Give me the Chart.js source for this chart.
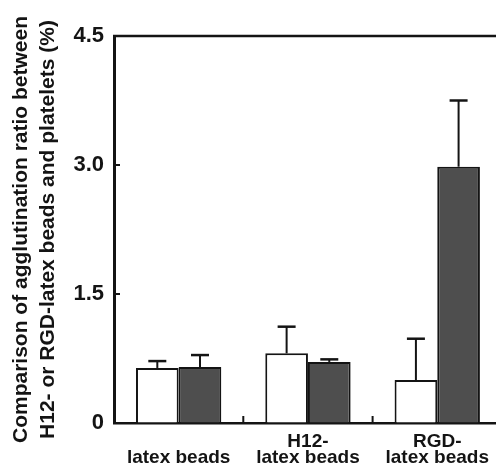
<!DOCTYPE html>
<html><head><meta charset="utf-8">
<script src="https://cdn.jsdelivr.net/npm/chart.js@4/dist/chart.umd.min.js"></script>
<style>html,body{margin:0;padding:0;background:#fff;overflow:hidden;width:496px;height:470px}canvas{display:block}</style>
</head><body>
<canvas id="c" width="508" height="470"></canvas>
<script>
const categories = ["latex beads", ["H12-", "latex beads"], ["RGD-", "latex beads"]];
const seriesWhite = [0.64, 0.81, 0.50];
const seriesWhiteErr = [0.08, 0.31, 0.48];
const seriesDark = [0.65, 0.71, 2.98];
const seriesDarkErr = [0.14, 0.03, 0.77];
const yTickValues = [0, 1.5, 3.0, 4.5];
const yTickLabels = ["0", "1.5", "3.0", "4.5"];
const yTitle = ["Comparison of agglutination ratio between", "H12- or RGD-latex beads and platelets (%)"];

const INK = '#141414';
const FONT = 'Liberation Sans, Arial, Helvetica, sans-serif';

const errorBars = {
  id: 'errorBars',
  afterDatasetsDraw(chart) {
    const ctx = chart.ctx, y = chart.scales.y;
    chart.data.datasets.forEach((ds, i) => {
      const meta = chart.getDatasetMeta(i);
      meta.data.forEach((bar, j) => {
        const top = y.getPixelForValue(ds.data[j] + ds.errors[j]);
        ctx.save();
        ctx.strokeStyle = INK; ctx.lineWidth = 2;
        ctx.beginPath();
        ctx.moveTo(bar.x, bar.y); ctx.lineTo(bar.x, top);
        ctx.stroke();
        ctx.lineWidth = 2.5;
        ctx.beginPath();
        ctx.moveTo(bar.x - 9, top); ctx.lineTo(bar.x + 9, top);
        ctx.stroke();
        ctx.restore();
      });
    });
  }
};

const frame = {
  id: 'frame',
  afterDraw(chart) {
    const {ctx, chartArea: a, scales: {x, y}} = chart;
    ctx.save();
    ctx.strokeStyle = INK; ctx.lineWidth = 2.5;
    ctx.beginPath(); ctx.moveTo(a.left - 1, a.top); ctx.lineTo(a.right, a.top); ctx.stroke();
    ctx.lineWidth = 2;
    ctx.beginPath();
    y.ticks.forEach(t => { const p = y.getPixelForValue(t.value); ctx.moveTo(a.left, p); ctx.lineTo(a.left + 6, p); });
    for (let i = 1; i < x.ticks.length; i++) {
      const p = (x.getPixelForTick(i - 1) + x.getPixelForTick(i)) / 2;
      ctx.moveTo(p, a.bottom); ctx.lineTo(p, a.bottom - 7);
    }
    ctx.stroke();
    ctx.restore();
  }
};

new Chart(document.getElementById('c'), {
  type: 'bar',
  data: {
    labels: categories,
    datasets: [
      { data: seriesWhite, errors: seriesWhiteErr, backgroundColor: '#ffffff', borderColor: INK, borderWidth: 2, borderSkipped: 'bottom' },
      { data: seriesDark, errors: seriesDarkErr, backgroundColor: '#4e4e4e', borderColor: INK, borderWidth: 2, borderSkipped: 'bottom' }
    ]
  },
  plugins: [errorBars, frame],
  options: {
    responsive: false,
    animation: false,
    layout: { padding: { top: 36, right: 0, left: 0, bottom: 0 } },
    plugins: { legend: { display: false }, tooltip: { enabled: false } },
    datasets: { bar: { categoryPercentage: 0.66, barPercentage: 1.0 } },
    scales: {
      x: {
        grid: { display: true, drawOnChartArea: false, drawTicks: false, color: 'rgba(0,0,0,0)' },
        border: { display: true, color: INK, width: 2.5 },
        ticks: { color: INK, font: { family: FONT, size: 19, weight: 'bold', lineHeight: '16px' }, padding: 19, crossAlign: 'far', maxRotation: 0, autoSkip: false },
        afterFit(s) { s.height = 47; }
      },
      y: {
        min: 0, max: 4.5,
        afterBuildTicks(s) { s.ticks = yTickValues.map(v => ({ value: v })); },
        ticks: { color: INK, font: { family: FONT, size: 22, weight: 'bold' }, padding: 10, callback: (v, i) => yTickLabels[i] },
        grid: { display: true, drawOnChartArea: false, drawTicks: false, color: 'rgba(0,0,0,0)' },
        border: { display: true, color: INK, width: 3 },
        title: { display: true, text: yTitle, color: INK, font: { family: FONT, size: 21, weight: 'bold', lineHeight: 1.28 }, padding: { top: 8, bottom: 0 } },
        afterFit(s) { s.width = 114; }
      }
    }
  }
});
</script>
</body></html>
